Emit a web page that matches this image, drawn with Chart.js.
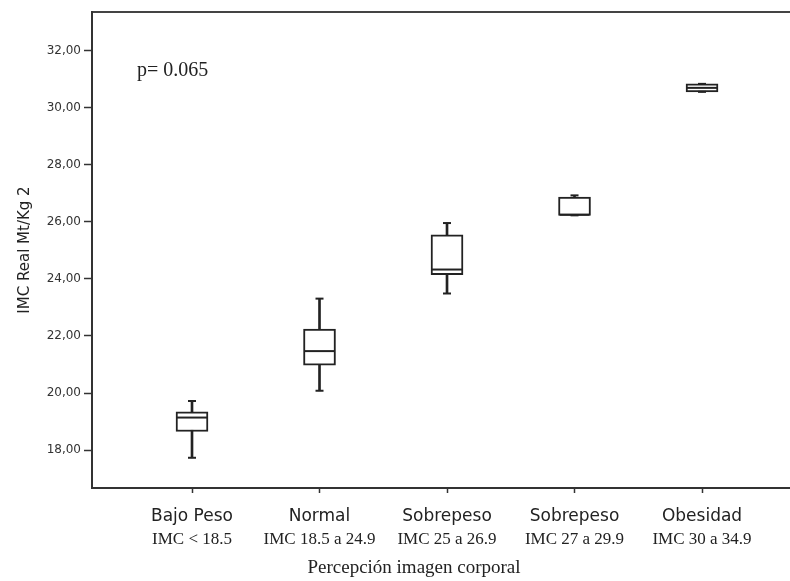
<!DOCTYPE html>
<html>
<head>
<meta charset="utf-8">
<script src="https://cdn.jsdelivr.net/npm/chart.js@4/dist/chart.umd.min.js"></script>
<style>
  html, body { margin: 0; padding: 0; background: #fff; }
  #wrap { width: 790px; height: 581px; position: relative; }
</style>
</head>
<body>
<div id="wrap"><canvas id="boxChart"></canvas></div>
<script>
// ---- Data ----
const catNames  = ['Bajo Peso', 'Normal', 'Sobrepeso', 'Sobrepeso', 'Obesidad'];
const catRanges = ['IMC < 18.5', 'IMC 18.5 a 24.9', 'IMC 25 a 26.9', 'IMC 27 a 29.9', 'IMC 30 a 34.9'];
const whiskerLow  = [17.73, 20.08, 23.49, 26.23, 30.56];
const boxQ1       = [18.65, 20.98, 24.15, 26.23, 30.56];
const medians     = [19.14, 21.47, 24.33, 26.25, 30.70];
const boxQ3       = [19.34, 22.24, 25.55, 26.87, 30.84];
const whiskerHigh = [19.72, 23.31, 25.96, 26.93, 30.84];
const yTicks = [18, 20, 22, 24, 26, 28, 30, 32];
const xTicks = [1, 2, 3, 4, 5];

const yTitle = 'IMC Real Mt/Kg 2';
const xTitle = 'Percepción imagen corporal';
const pText  = 'p= 0.065';

const ink = '#222';
const xPos = catNames.map((c, i) => i + 1);

// ---- Extra text (p value, x axis title) ----
const textPlugin = {
  id: 'extraText',
  afterDraw(chart) {
    const ctx = chart.ctx;
    ctx.save();
    ctx.fillStyle = ink;
    ctx.textBaseline = 'alphabetic';
    ctx.font = '20px "Liberation Serif"';
    ctx.textAlign = 'left';
    ctx.fillText(pText, 137, 76);
    ctx.font = '19px "Liberation Serif"';
    ctx.textAlign = 'center';
    ctx.fillText(xTitle, 414, 573);
    ctx.restore();
  }
};

// bottom/top axes share the same range; no side padding so the frame reaches the edge
const xCommon = {
  type: 'linear',
  min: 0.2157,
  max: 5.69,
  offset: false,
  afterBuildTicks: scale => { scale.ticks = xTicks.map(v => ({ value: v })); }
};
const noSidePadding = scale => { scale.paddingLeft = 0; scale.paddingRight = 0; };

new Chart(document.getElementById('boxChart'), {
  type: 'bar',
  data: {
    datasets: [
      {
        type: 'bar',
        label: 'whisker',
        data: xPos.map((x, i) => ({ x: x, y: [whiskerLow[i], whiskerHigh[i]] })),
        backgroundColor: ink,
        barThickness: 2,
        grouped: false,
        order: 3
      },
      {
        type: 'bar',
        label: 'box',
        data: xPos.map((x, i) => ({ x: x, y: [boxQ1[i], boxQ3[i]] })),
        backgroundColor: '#ffffff',
        borderColor: ink,
        borderWidth: 2,
        borderSkipped: false,
        barThickness: 32,
        grouped: false,
        order: 2
      },
      {
        type: 'scatter',
        label: 'median',
        data: xPos.map((x, i) => ({ x: x, y: medians[i] })),
        pointStyle: 'line',
        radius: 15,
        borderColor: ink,
        borderWidth: 2,
        order: 1
      },
      {
        type: 'scatter',
        label: 'caps',
        data: xPos.map((x, i) => ({ x: x, y: whiskerLow[i] }))
          .concat(xPos.map((x, i) => ({ x: x, y: whiskerHigh[i] }))),
        pointStyle: 'line',
        radius: 4,
        borderColor: ink,
        borderWidth: 2,
        order: 0
      }
    ]
  },
  options: {
    responsive: true,
    maintainAspectRatio: false,
    animation: false,
    layout: { autoPadding: false, padding: { top: 12, left: 0, right: 0, bottom: 0 } },
    plugins: {
      legend: { display: false },
      tooltip: { enabled: false }
    },
    scales: {
      x: Object.assign({}, xCommon, {
        position: 'bottom',
        weight: 1,
        border: { display: true, color: '#333', width: 2 },
        grid: { display: true, offset: false, drawOnChartArea: false, drawTicks: true, tickLength: 5, color: '#333', tickWidth: 1.5 },
        ticks: {
          autoSkip: false, maxRotation: 0, padding: 13, color: ink,
          font: { family: '"DejaVu Sans"', size: 17 },
          callback: v => catNames[v - 1]
        },
        afterFit: scale => { scale.height = 38; noSidePadding(scale); }
      }),
      x2: Object.assign({}, xCommon, {
        position: 'bottom',
        weight: 2,
        border: { display: false },
        grid: { display: false, offset: false, drawTicks: false },
        ticks: {
          autoSkip: false, maxRotation: 0, padding: 3, color: ink,
          font: { family: '"Liberation Serif"', size: 17 },
          callback: v => catRanges[v - 1]
        },
        afterFit: scale => { scale.height = 55; noSidePadding(scale); }
      }),
      xTop: Object.assign({}, xCommon, {
        position: 'top',
        border: { display: true, color: '#444', width: 2 },
        grid: { display: false, offset: false, drawTicks: false },
        ticks: { display: false },
        afterFit: scale => { scale.height = 0; noSidePadding(scale); }
      }),
      y: {
        type: 'linear',
        min: 16.67,
        max: 33.36,
        afterBuildTicks: scale => { scale.ticks = yTicks.map(v => ({ value: v })); },
        border: { display: true, color: '#333', width: 2 },
        grid: { display: true, drawOnChartArea: false, drawTicks: true, tickLength: 8, color: '#333', tickWidth: 1.5 },
        ticks: {
          padding: 3, color: '#333',
          font: { family: '"DejaVu Sans"', size: 12 },
          callback: v => v.toFixed(2).replace('.', ',')
        },
        title: {
          display: true,
          text: yTitle,
          color: ink,
          font: { family: '"DejaVu Sans"', size: 15 },
          padding: { top: 16, bottom: 0 }
        },
        afterFit: scale => { scale.width = 92; scale.paddingTop = 0; scale.paddingBottom = 0; }
      }
    }
  },
  plugins: [textPlugin]
});
</script>
</body>
</html>
